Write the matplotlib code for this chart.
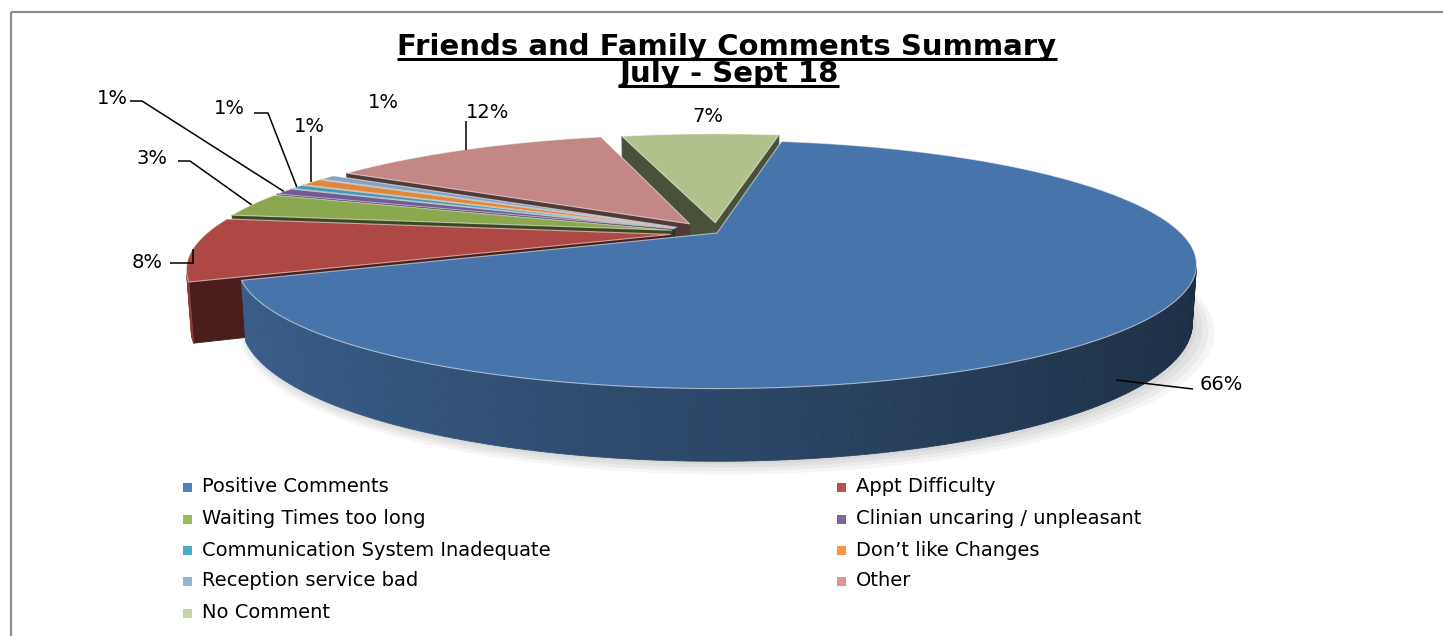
import numpy as np
import matplotlib
matplotlib.use('Agg')
import matplotlib.pyplot as plt
from matplotlib.patches import Polygon, Rectangle
from matplotlib.colors import to_rgb

# ---------------- data ----------------
categories = ['Positive Comments', 'Appt Difficulty', 'Waiting Times too long',
              'Clinian uncaring / unpleasant', 'Communication System Inadequate',
              "Don\u2019t like Changes", 'Reception service bad', 'Other', 'No Comment']
values = [66.2, 8.2, 3.2, 0.9, 0.6, 1.0, 0.7, 12.3, 6.9]
colors = ['#4F81BD', '#C0504D', '#9BBB59', '#8064A2', '#4BACC6',
          '#F79646', '#95B3D7', '#D99694', '#C3D69B']
title_lines = ['Friends and Family Comments Summary', 'July - Sept 18']

# ---------------- figure ----------------
W, HP = 1443, 636
fig = plt.figure(figsize=(W / 100, HP / 100), dpi=100)
ax = fig.add_axes([0, 0, 1, 1])
ax.set_xlim(0, W)
ax.set_ylim(HP, 0)
ax.axis('off')

# chart border
ax.add_patch(Rectangle((10.5, 11.5), W + 20, HP + 20, fill=False,
                       edgecolor='#8c8c8c', linewidth=1.6, zorder=0))

# ---------------- 3D pie projection ----------------
CX, CY = 717.0, 233.0
ALPHA = np.radians(14.5)
CA, SA = np.cos(ALPHA), np.sin(ALPHA)
DIST = 3.82
FOC = 1772.0
THICK = 0.125
ROT = 10.0
explode = [0.0, 0.1, 0.1, 0.1, 0.1, 0.1, 0.1, 0.1, 0.09]
cam = np.array([0.0, -DIST * CA, DIST * SA])


def proj(x, v, z):
    x = np.asarray(x, float)
    v = np.asarray(v, float)
    z = np.asarray(z, float)
    depth = DIST + v * CA - z * SA
    return CX + FOC * x / depth, CY - FOC * (v * SA + z * CA) / depth


def shade(c, f):
    return tuple(np.clip(np.array(to_rgb(c)) * f, 0, 1))


vals = np.array(values, float)
frac = vals / vals.sum()
ends = ROT + 360 * np.cumsum(frac)
starts = ends - 360 * frac
mids = (starts + ends) / 2

# soft shadow beneath the pie
tt = np.radians(np.linspace(0, 360, 361))
for k in range(4):
    sx, sy = proj(np.sin(tt) * (1.0 + 0.008 * k), np.cos(tt) * (1.0 + 0.008 * k), -THICK)
    ax.add_patch(Polygon(np.c_[sx + 4 + 2 * k, sy + 3 + 1.5 * k], closed=True,
                         facecolor='#000000', alpha=0.04, edgecolor='none', zorder=1))

faces = []   # (distance, xy, color)
tops = []
geo = []
for i in range(len(vals)):
    a0, a1, m = starts[i], ends[i], mids[i]
    mr = np.radians(m)
    ox, ov = explode[i] * np.sin(mr), explode[i] * np.cos(mr)
    geo.append((ox, ov))
    n = max(3, int((a1 - a0) / 1.0) + 2)
    th = np.radians(np.linspace(a0, a1, n))
    rx, rv = ox + np.sin(th), ov + np.cos(th)
    # top face
    px, py = proj(np.r_[ox, rx], np.r_[ov, rv], np.zeros(n + 1))
    tops.append((np.c_[px, py], colors[i]))
    # outer wall
    for k in range(n - 1):
        tm = (th[k] + th[k + 1]) / 2
        nrm = np.array([np.sin(tm), np.cos(tm), 0.0])
        pt = np.array([(rx[k] + rx[k + 1]) / 2, (rv[k] + rv[k + 1]) / 2, -THICK / 2])
        if np.dot(nrm, cam - pt) <= 0:
            continue
        qx = [rx[k], rx[k + 1], rx[k + 1], rx[k]]
        qv = [rv[k], rv[k + 1], rv[k + 1], rv[k]]
        qz = [0, 0, -THICK, -THICK]
        sx, sy = proj(qx, qv, qz)
        f = 0.55 - 0.2 * np.sin(tm)
        faces.append((np.linalg.norm(cam - pt), np.c_[sx, sy], shade(colors[i], f)))
    # radial faces
    for ang, sgn in ((a0, -1), (a1, 1)):
        ar = np.radians(ang)
        nrm = sgn * np.array([np.cos(ar), -np.sin(ar), 0.0])
        ex, ev = ox + np.sin(ar), ov + np.cos(ar)
        pt = np.array([(ox + ex) / 2, (ov + ev) / 2, -THICK / 2])
        if np.dot(nrm, cam - pt) <= 0:
            continue
        sx, sy = proj([ox, ex, ex, ox], [ov, ev, ev, ov], [0, 0, -THICK, -THICK])
        faces.append((np.linalg.norm(cam - pt), np.c_[sx, sy], shade(colors[i], 0.38)))

faces.sort(key=lambda t: -t[0])
for _, xy, col in faces:
    ax.add_patch(Polygon(xy, closed=True, facecolor=col, edgecolor=col,
                         linewidth=0.6, zorder=2))
for xy, col in tops:
    ax.add_patch(Polygon(xy, closed=True, facecolor=shade(col, 0.9),
                         edgecolor=(1, 1, 1, 0.55), linewidth=0.8, zorder=3))

# ---------------- data labels ----------------
lab_pos = [(1200, 384, 'left'), (163, 262, 'right'), (168, 158, 'right'),
           (128, 98, 'right'), (245, 108, 'right'), (309, 127, 'center'),
           (383, 102, 'center'), (488, 112, 'center'), (708, 116, 'center')]
leader = {0: ('s', (1193, 389)), 1: ('e', (170, 263)), 2: ('e', (178, 161)),
          3: ('e', (130, 101)), 4: ('e', (254, 113)), 5: ('v', 136),
          7: ('v', 121)}
elbow_len = {1: None, 2: 12, 3: 12, 4: 14}

for i, v in enumerate(vals):
    x, y, ha = lab_pos[i]
    ax.text(x, y, f'{round(v):.0f}%', ha=ha, va='center', fontsize=14,
            color='black', zorder=5)
    if i not in leader:
        continue
    ox, ov = geo[i]
    mr = np.radians(mids[i])
    if i == 0:
        axx, ayy = proj(ox + 0.95 * np.sin(mr), ov + 0.95 * np.cos(mr), -THICK)
    else:
        axx, ayy = proj(ox + np.sin(mr), ov + np.cos(mr), 0.0)
    kind, p = leader[i]
    if kind == 's':
        xs, ys = [p[0], axx], [p[1], ayy]
    elif kind == 'v':
        xs, ys = [axx, axx], [p, ayy]
    else:
        if elbow_len[i] is None:
            xs, ys = [p[0], axx, axx], [p[1], p[1], ayy]
        else:
            xs, ys = [p[0], p[0] + elbow_len[i], axx], [p[1], p[1], ayy]
    ax.plot(xs, ys, color='black', linewidth=1.1, zorder=4, solid_capstyle='butt')

# ---------------- title ----------------
t1 = ax.text(727, 55, title_lines[0], ha='center', va='baseline', fontsize=21,
             fontweight='bold', zorder=5)
t2 = ax.text(729, 82, title_lines[1], ha='center', va='baseline', fontsize=21,
             fontweight='bold', zorder=5)
fig.canvas.draw()
inv = ax.transData.inverted()
for t, yb in ((t1, 58.5), (t2, 86)):
    bb = t.get_window_extent()
    (x0, _), (x1, _) = inv.transform([[bb.x0, bb.y0], [bb.x1, bb.y1]])
    ax.plot([x0, x1], [yb, yb], color='black', linewidth=2.2, zorder=5,
            solid_capstyle='butt')

# ---------------- legend ----------------
row_y = [487, 519, 550, 581, 613]
col_mark = [187, 841]
col_text = [202, 856]
for i, name in enumerate(categories):
    r, c = divmod(i, 2)
    ax.add_patch(Rectangle((col_mark[c] - 4.5, row_y[r] - 4.5), 9, 9,
                           facecolor=colors[i], edgecolor='none', zorder=5))
    ax.text(col_text[c], row_y[r], name, ha='left', va='center', fontsize=14,
            color='black', zorder=5)

fig.savefig('out.png', dpi=100)
